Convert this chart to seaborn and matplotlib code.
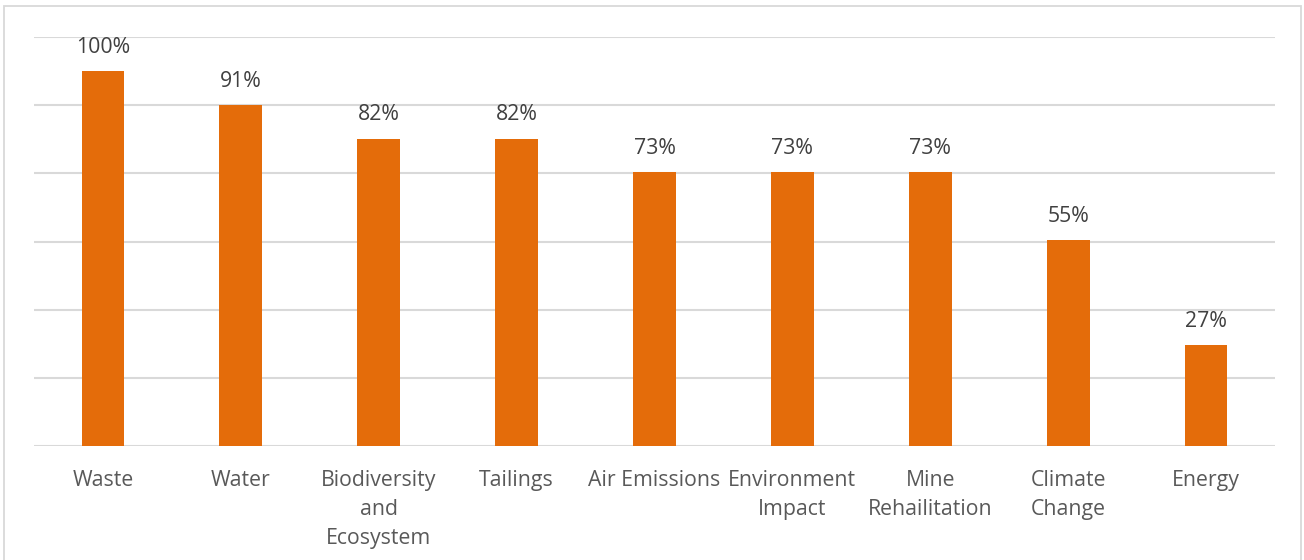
import numpy as np
import pandas as pd
import matplotlib
matplotlib.use("Agg")
import matplotlib.pyplot as plt
from matplotlib.patches import Rectangle
import seaborn as sns

categories = ["Waste", "Water", "Biodiversity\nand\nEcosystem", "Tailings", "Air Emissions",
              "Environment\nImpact", "Mine\nRehailitation", "Climate\nChange", "Energy"]
shares = [100, 91, 82, 82, 73, 73, 73, 55, 27]
value_labels = ["100%", "91%", "82%", "82%", "73%", "73%", "73%", "55%", "27%"]

# gridlines follow steps of 2 out of 11 respondents
grid_step = 200 / 11
grid_count = 6

df = pd.DataFrame({"category": categories, "share": shares})

sns.set_theme(style="white")
plt.rcParams["font.family"] = ["Open Sans", "DejaVu Sans"]

fig = plt.figure(figsize=(13.04, 5.6), dpi=100)
ax = fig.add_axes([34 / 1304, 1 - 446 / 560, (1275 - 34) / 1304, (446 - 37) / 560])

bar_color = "#E46C0A"
sns.barplot(data=df, x="category", y="share", color=bar_color, saturation=1,
            width=0.31, ax=ax, zorder=3)
for p in ax.patches:
    p.set_edgecolor("none")

ax.set_ylim(0, grid_step * grid_count)
ax.set_xlim(-0.5, len(categories) - 0.5)
ax.set_yticks(np.arange(grid_count + 1) * grid_step)
ax.set_yticklabels([])
ax.yaxis.grid(True, color="#D9D9D9", linewidth=1.5)
ax.set_axisbelow(True)
ax.tick_params(axis="both", length=0)
for s in ["top", "right", "left", "bottom"]:
    ax.spines[s].set_visible(False)
ax.set_xlabel("")
ax.set_ylabel("")

ax.set_xticks(range(len(categories)))
ax.set_xticklabels(categories, fontsize=15.3, color="#595959", linespacing=1.5,
                   va="top")
ax.tick_params(axis="x", pad=17.5)

for i, (v, lab) in enumerate(zip(shares, value_labels)):
    ax.annotate(lab, (i, v), xytext=(0, 9.5), textcoords="offset points",
                ha="center", va="bottom", fontsize=15.3, color="#404040")

fig.patches.append(Rectangle((4 / 1304, -0.01), (1301 - 4) / 1304, 1 - 6 / 560 + 0.01,
                             transform=fig.transFigure, fill=False,
                             edgecolor="#D9D9D9", linewidth=1.3))

fig.savefig("out.png", dpi=100, facecolor="white")
